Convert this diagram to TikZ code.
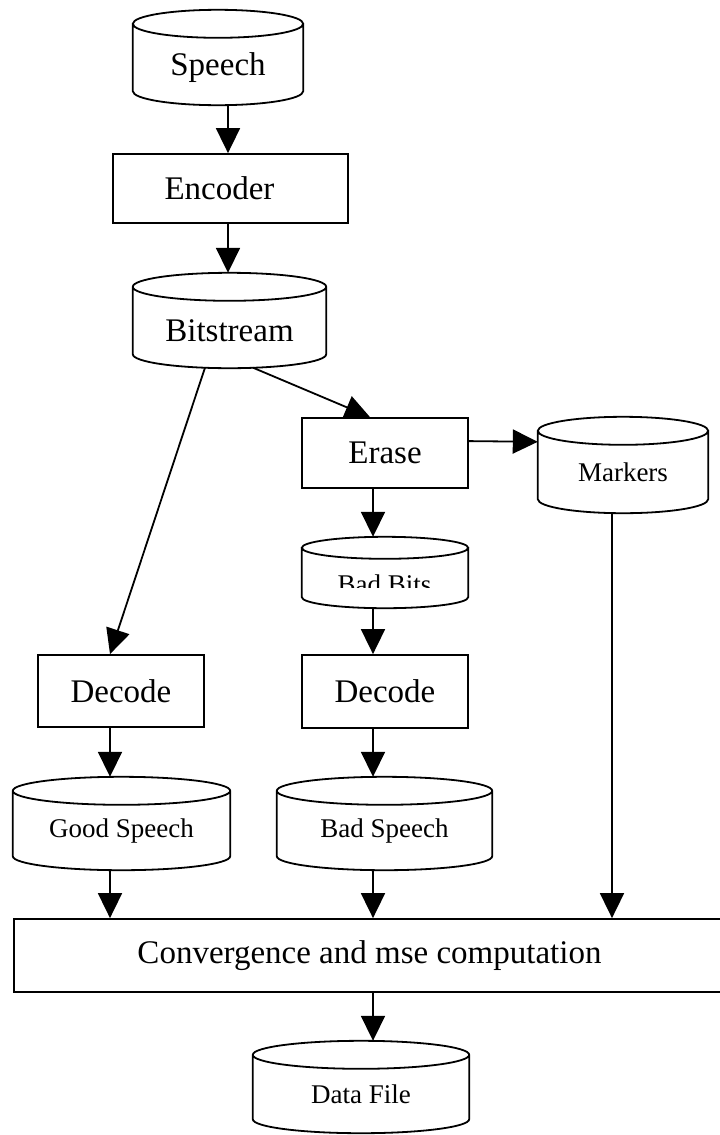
\documentclass[tikz,border=0pt]{standalone}
\usepackage{fontspec}
\setmainfont{Liberation Serif}
\usetikzlibrary{arrows.meta,calc}
\begin{document}
\begin{tikzpicture}[x=1pt,y=-1pt,
  line/.style={line width=1.8pt},
  arr/.style={line width=1.8pt,-{Triangle[length=25pt,width=24pt]}},
  box/.style={draw,line width=1.8pt,inner sep=0pt,font=\fontsize{33}{36}\selectfont},
  cyl/.style={inner sep=0pt,font=\fontsize{33}{36}\selectfont},
  cyls/.style={inner sep=0pt,font=\fontsize{27}{30}\selectfont}]
\useasboundingbox (0,0) rectangle (720,1135);

% boxes
\node[box,minimum width=235pt,minimum height=69pt] (encoder) at (230.5,188.5) {\hspace*{0pt}Encoder\hspace*{22pt}};
\node[box,minimum width=166pt,minimum height=70pt] (erase) at (385,453) {Erase};
\node[box,minimum width=166pt,minimum height=72pt] (decodeL) at (121,691) {Decode};
\node[box,minimum width=166pt,minimum height=73pt] (decodeM) at (385,691.5) {Decode};
\node[box,minimum width=711pt,minimum height=73pt] (conv) at (369.5,955.5) {Convergence and mse computation};

% cylinders (node = body below the top ellipse centre line)
\node[cyl,minimum width=170pt,minimum height=81pt,text height=25pt,text depth=4pt] (speech) at (218,64.5) {Speech};
\node[cyl,minimum width=193pt,minimum height=81pt,text height=28pt,text depth=0pt] (bitstream) at (229.5,327.5) {Bitstream};
\node[cyls,minimum width=170pt,minimum height=82pt] (markers) at (623,472) {Markers};
\node[cyls,minimum width=166pt,minimum height=60pt] (badbits) at (385,578) {};
\node[cyls,minimum width=217pt,minimum height=79pt] (goodspeech) at (121.5,830.5) {Good Speech};
\node[cyls,minimum width=215pt,minimum height=79pt] (badspeech) at (384.5,830.5) {Bad Speech};
\node[cyls,minimum width=216pt,minimum height=78pt] (datafile) at (361,1094) {Data File};

\begin{scope}
  \clip (300,560) rectangle (470,587);
  \node[cyls,anchor=base] (badbitstext) at (384.5,593) {Bad Bits};
\end{scope}

\foreach \nm/\ry in {speech/14,bitstream/14,markers/14,badbits/11,goodspeech/14,badspeech/14,datafile/14}{
  \draw[line] let \p1=(\nm.north west),\p2=(\nm.north east),\n1={(\x2-\x1)/2} in
    (\nm.north) ellipse [x radius=\n1, y radius=\ry pt]
    (\nm.north west) -- ([yshift=\ry pt]\nm.south west)
    arc [start angle=180, end angle=360, x radius=\n1, y radius=\ry pt]
    -- (\nm.north east);
}

% connectors
\draw[arr] ([xshift=10pt]speech.south) -- ([xshift=-2.5pt]encoder.north);
\draw[arr] ([xshift=-2.5pt]encoder.south) -- ([xshift=-1.5pt,yshift=14pt]bitstream.north);
\draw[arr] ([xshift=-24.5pt,yshift=0.5pt]bitstream.south) -- ([xshift=-11pt]decodeL.north);
\draw[arr] ([xshift=23.5pt,yshift=0.5pt]bitstream.south) -- ([xshift=-15pt]erase.north);
\draw[arr] ([yshift=-24pt]erase.north east) -- ([yshift=-11pt]markers.north west);
\draw[arr] ([xshift=-12pt]erase.south) -- ([xshift=-12pt,yshift=11pt]badbits.north);
\draw[arr] ([xshift=-12pt]badbits.south) -- ([xshift=-12pt]decodeM.north);
\draw[arr] ([xshift=-11pt]decodeL.south) -- ([xshift=-11.5pt,yshift=14pt]goodspeech.north);
\draw[arr] ([xshift=-12pt]decodeM.south) -- ([xshift=-11.5pt,yshift=14pt]badspeech.north);
\draw[arr] ([xshift=-11.5pt]goodspeech.south) -- ([xshift=-259.5pt]conv.north);
\draw[arr] ([xshift=-11.5pt]badspeech.south) -- ([xshift=3.5pt]conv.north);
\draw[arr] ([xshift=-11pt]markers.south) -- ([xshift=242.5pt]conv.north);
\draw[arr] ([xshift=3.5pt]conv.south) -- ([xshift=12pt,yshift=14pt]datafile.north);
\end{tikzpicture}
\end{document}
